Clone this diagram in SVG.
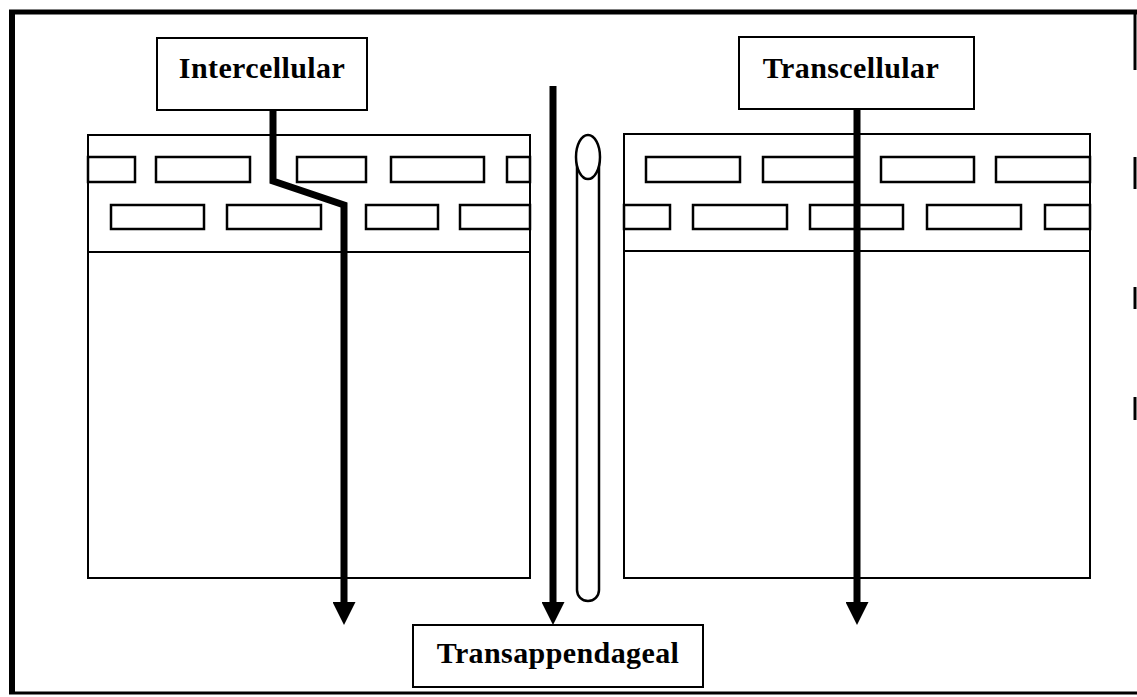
<svg xmlns="http://www.w3.org/2000/svg" width="1137" height="697" viewBox="0 0 1137 697">
  <style>
    .frame { fill: none; stroke: #000; }
    .block { fill: #fff; stroke: #000; stroke-width: 2; }
    .brick { fill: #fff; stroke: #000; stroke-width: 2.5; }
    .label-box { fill: #fff; stroke: #000; stroke-width: 2; }
    .label { font-family: "Liberation Serif", "Times New Roman", serif; font-weight: bold; font-size: 30px; fill: #000; text-anchor: middle; letter-spacing: 0.4px; }
    .route { fill: none; stroke: #000; stroke-width: 7; stroke-linejoin: miter; marker-end: url(#head); }
    .tube { fill: #fff; stroke: #000; stroke-width: 2.5; }
  </style>
  <defs>
    <marker id="head" markerUnits="userSpaceOnUse" markerWidth="23" markerHeight="23" viewBox="0 0 22 22" refX="0" refY="11" orient="auto">
      <path d="M0,0 L22,11 L0,22 Z" fill="#000"/>
    </marker>
  </defs>

  <rect width="1137" height="697" fill="#fff"/>

  <!-- outer frame -->
  <g id="frame">
    <line class="frame" x1="9" y1="12" x2="1137" y2="12" stroke-width="5"/>
    <line class="frame" x1="12" y1="10" x2="12" y2="694" stroke-width="6"/>
    <line class="frame" x1="9" y1="693" x2="1137" y2="693" stroke-width="3"/>
    <line class="frame" x1="1135" y1="10" x2="1135" y2="70" stroke-width="3"/>
    <line class="frame" x1="1135" y1="157" x2="1135" y2="189" stroke-width="3"/>
    <line class="frame" x1="1135" y1="287" x2="1135" y2="309" stroke-width="3"/>
    <line class="frame" x1="1135" y1="397" x2="1135" y2="420" stroke-width="3"/>
  </g>

  <!-- left skin section -->
  <g id="skin-left">
    <rect class="block" x="88" y="135" width="442" height="443"/>
    <line class="block" x1="88" y1="252" x2="530" y2="252"/>
    <rect class="brick" x="88" y="157" width="47" height="25"/>
    <rect class="brick" x="156" y="157" width="94" height="25"/>
    <rect class="brick" x="297" y="157" width="69" height="25"/>
    <rect class="brick" x="391" y="157" width="93" height="25"/>
    <rect class="brick" x="507" y="157" width="23" height="25"/>
    <rect class="brick" x="111" y="205" width="93" height="24"/>
    <rect class="brick" x="227" y="205" width="94" height="24"/>
    <rect class="brick" x="366" y="205" width="72" height="24"/>
    <rect class="brick" x="460" y="205" width="70" height="24"/>
  </g>

  <!-- right skin section -->
  <g id="skin-right">
    <rect class="block" x="624" y="134" width="466" height="444"/>
    <line class="block" x1="624" y1="251" x2="1090" y2="251"/>
    <rect class="brick" x="646" y="157" width="94" height="25"/>
    <rect class="brick" x="763" y="157" width="94" height="25"/>
    <rect class="brick" x="881" y="157" width="93" height="25"/>
    <rect class="brick" x="996" y="157" width="94" height="25"/>
    <rect class="brick" x="624" y="205" width="46" height="24"/>
    <rect class="brick" x="693" y="205" width="94" height="24"/>
    <rect class="brick" x="810" y="205" width="93" height="24"/>
    <rect class="brick" x="927" y="205" width="94" height="24"/>
    <rect class="brick" x="1045" y="205" width="45" height="24"/>
  </g>

  <!-- hair follicle -->
  <g id="follicle">
    <path class="tube" d="M577,157 L577,590 A11,11 0 0 0 599,590 L599,157"/>
    <ellipse class="tube" cx="588" cy="157" rx="12" ry="22"/>
  </g>

  <!-- penetration routes -->
  <g id="connectors">
    <polyline class="route" points="273,110 273,181 344,205 344,602"/>
    <line class="route" x1="553" y1="86" x2="553" y2="602"/>
    <line class="route" x1="857" y1="109" x2="857" y2="602"/>
  </g>

  <g id="intercellular">
    <rect class="label-box" x="157" y="38" width="210" height="72"/>
    <text class="label" x="262" y="78">Intercellular</text>
  </g>

  <g id="transcellular">
    <rect class="label-box" x="739" y="37" width="235" height="72"/>
    <text class="label" x="851" y="78">Transcellular</text>
  </g>

  <g id="transappendageal">
    <rect class="label-box" x="413" y="625" width="290" height="62"/>
    <text class="label" x="558" y="663">Transappendageal</text>
  </g>
</svg>
